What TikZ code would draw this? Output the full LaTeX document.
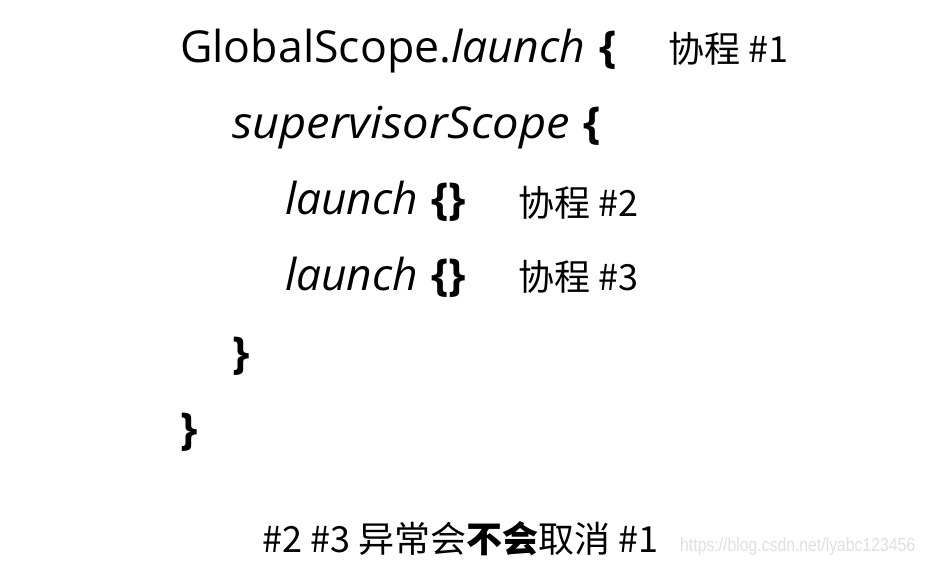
\documentclass[tikz,border=0pt]{standalone}
\usepackage{fontspec}
\usepackage{graphicx}
\setmainfont{Open Sans}
\newfontfamily\cjk{Noto Sans CJK SC}
\newfontfamily\wmfont{Liberation Sans}
\begin{document}
\begin{tikzpicture}[x=1pt,y=-1pt,
  code/.style={anchor=base west,inner sep=0pt,font=\fontsize{44}{52}\selectfont},
  note/.style={anchor=base west,inner sep=0pt,font=\fontsize{36}{42}\selectfont\cjk},
  wmark/.style={anchor=base west,inner sep=0pt,font=\fontsize{19}{22}\selectfont\wmfont,text=black!12}]
\useasboundingbox[fill=white] (0,0) rectangle (925,565);
\node[code] (l1) at (180,62) {\resizebox{405pt}{\height}{GlobalScope.\textit{launch}}\hspace{14pt}\textbf{\{}};
\node[note] (n1) at (668,62) {协程 \#1};
\node[code] (l2) at (232,138) {\resizebox{338pt}{\height}{\textit{supervisorScope}}\hspace{13pt}\textbf{\{}};
\node[code] (l3) at (285,214) {\resizebox{133pt}{\height}{\textit{launch}}\hspace{13pt}\textbf{\{\}}};
\node[note] (n2) at (518,216) {协程 \#2};
\node[code] (l4) at (285,290) {\resizebox{133pt}{\height}{\textit{launch}}\hspace{13pt}\textbf{\{\}}};
\node[note] (n3) at (518,290) {协程 \#3};
\node[code] (l5) at (232,368) {\textbf{\}}};
\node[code] (l6) at (180,444) {\textbf{\}}};
\node[note] (b) at (262,552) {\#2 \#3 异常会\textbf{不会}取消 \#1};
\node[wmark] (w) at (680,551) {\resizebox{235pt}{\height}{https://blog.csdn.net/lyabc123456}};
\end{tikzpicture}
\end{document}
